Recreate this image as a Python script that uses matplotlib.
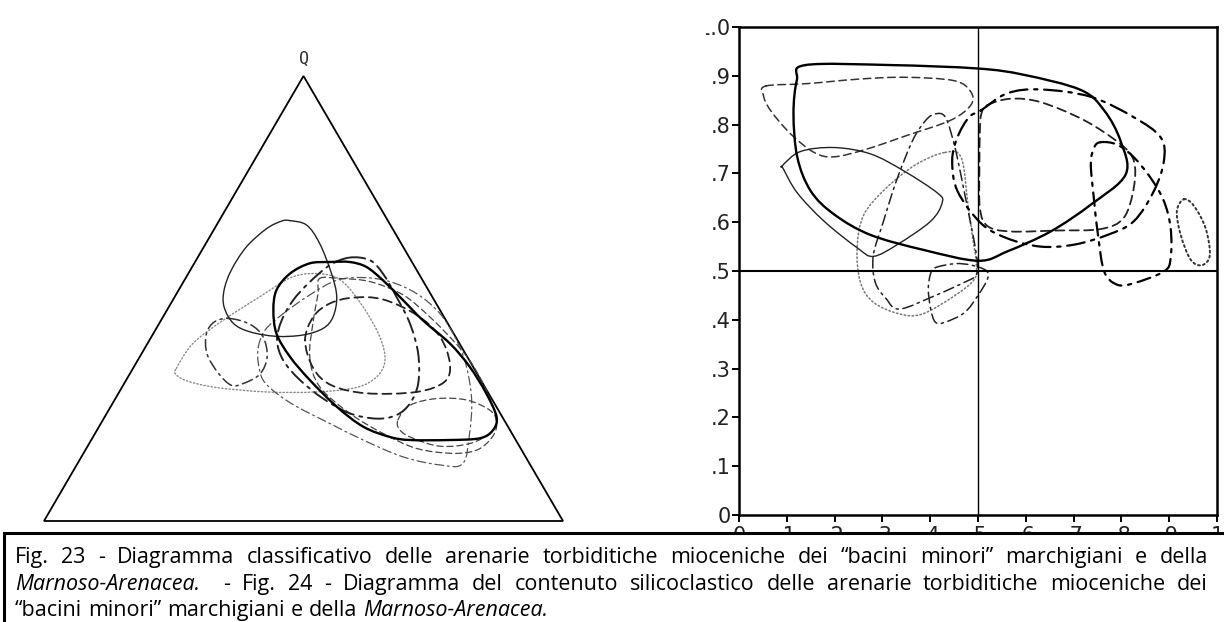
import numpy as np
import matplotlib.pyplot as plt
from matplotlib.path import Path
from matplotlib.patches import PathPatch, Rectangle, Polygon

W, H = 1224, 622

# ---- Fig. 23: ternary diagram, curves in triangle coords (x along base, y = height)
tri_thin_solid = [(0.474, 0.675), (0.506, 0.665), (0.531, 0.624), (0.554, 0.556), (0.564, 0.504),
                  (0.557, 0.459), (0.538, 0.433), (0.499, 0.418), (0.448, 0.415), (0.397, 0.425),
                  (0.365, 0.444), (0.347, 0.481), (0.347, 0.519), (0.361, 0.564), (0.390, 0.616),
                  (0.429, 0.657), (0.458, 0.674)]
tri_thick_solid = [(0.551, 0.582), (0.589, 0.582), (0.621, 0.571), (0.653, 0.541), (0.692, 0.496),
                   (0.730, 0.451), (0.782, 0.399), (0.820, 0.347), (0.852, 0.287), (0.872, 0.234),
                   (0.865, 0.204), (0.840, 0.186), (0.782, 0.182), (0.705, 0.182), (0.666, 0.189),
                   (0.615, 0.212), (0.564, 0.257), (0.512, 0.317), (0.474, 0.369), (0.448, 0.421),
                   (0.442, 0.474), (0.448, 0.519), (0.474, 0.556), (0.512, 0.579)]
tri_dotted = [(0.255, 0.343), (0.287, 0.399), (0.345, 0.451), (0.416, 0.504), (0.480, 0.549),
              (0.538, 0.555), (0.576, 0.537), (0.615, 0.481), (0.647, 0.414), (0.657, 0.361),
              (0.641, 0.324), (0.602, 0.300), (0.525, 0.290), (0.429, 0.290), (0.332, 0.300),
              (0.275, 0.315), (0.254, 0.330)]
tri_small_dashdot = [(0.358, 0.455), (0.397, 0.442), (0.422, 0.414), (0.430, 0.369), (0.416, 0.330),
                     (0.384, 0.309), (0.361, 0.305), (0.336, 0.332), (0.314, 0.376), (0.313, 0.421),
                     (0.329, 0.448)]
tri_thin_dashdot = [(0.413, 0.391), (0.426, 0.429), (0.461, 0.466), (0.512, 0.508), (0.564, 0.541),
                    (0.615, 0.547), (0.666, 0.538), (0.718, 0.511), (0.763, 0.466), (0.795, 0.406),
                    (0.814, 0.347), (0.824, 0.272), (0.820, 0.197), (0.807, 0.129), (0.763, 0.126),
                    (0.692, 0.144), (0.615, 0.182), (0.551, 0.219), (0.487, 0.257), (0.448, 0.287),
                    (0.422, 0.317), (0.413, 0.354)]
tri_heavy_dashdot = [(0.589, 0.592), (0.628, 0.586), (0.653, 0.556), (0.679, 0.504), (0.705, 0.444),
                     (0.721, 0.376), (0.721, 0.309), (0.705, 0.264), (0.679, 0.238), (0.641, 0.230),
                     (0.589, 0.242), (0.538, 0.275), (0.493, 0.317), (0.461, 0.361), (0.449, 0.406),
                     (0.458, 0.451), (0.480, 0.496), (0.512, 0.537), (0.551, 0.575)]
tri_inner_dashed = [(0.503, 0.406), (0.519, 0.459), (0.551, 0.489), (0.596, 0.502), (0.653, 0.498),
                    (0.718, 0.463), (0.763, 0.414), (0.782, 0.354), (0.772, 0.313), (0.718, 0.290),
                    (0.621, 0.287), (0.554, 0.305), (0.519, 0.343)]
tri_outer_dashed = [(0.531, 0.545), (0.570, 0.545), (0.628, 0.538), (0.692, 0.508), (0.743, 0.459),
                    (0.788, 0.406), (0.820, 0.361), (0.846, 0.309), (0.865, 0.257), (0.872, 0.212),
                    (0.859, 0.182), (0.833, 0.159), (0.788, 0.152), (0.718, 0.163), (0.653, 0.197),
                    (0.589, 0.242), (0.531, 0.302), (0.512, 0.369), (0.519, 0.451), (0.528, 0.511)]
tri_low_dashed = [(0.682, 0.227), (0.705, 0.260), (0.756, 0.275), (0.814, 0.272), (0.859, 0.249),
                  (0.872, 0.223), (0.859, 0.197), (0.820, 0.174), (0.763, 0.168), (0.711, 0.186),
                  (0.686, 0.204)]

# ---- Fig. 24: silicoclastic content, x and y in 0..1
sq_thick_solid = [(0.139, 0.922), (0.317, 0.922), (0.499, 0.915), (0.596, 0.902), (0.715, 0.871),
                  (0.764, 0.829), (0.798, 0.767), (0.809, 0.698), (0.736, 0.636), (0.652, 0.581),
                  (0.561, 0.540), (0.500, 0.521), (0.387, 0.543), (0.275, 0.574), (0.199, 0.616),
                  (0.150, 0.664), (0.122, 0.733), (0.114, 0.822), (0.121, 0.891)]
sq_thin_solid = [(0.091, 0.716), (0.129, 0.745), (0.199, 0.753), (0.275, 0.740), (0.345, 0.705),
                 (0.415, 0.660), (0.425, 0.640), (0.401, 0.602), (0.331, 0.554), (0.281, 0.530),
                 (0.248, 0.547), (0.178, 0.602), (0.122, 0.660), (0.093, 0.709)]
sq_upper_dashed = [(0.056, 0.879), (0.143, 0.884), (0.248, 0.893), (0.345, 0.897), (0.450, 0.890),
                   (0.485, 0.867), (0.485, 0.840), (0.443, 0.809), (0.352, 0.778), (0.268, 0.750),
                   (0.199, 0.734), (0.157, 0.743), (0.108, 0.781), (0.066, 0.829), (0.051, 0.860)]
sq_dotted = [(0.431, 0.743), (0.465, 0.732), (0.479, 0.636), (0.489, 0.567), (0.496, 0.519),
             (0.493, 0.484), (0.452, 0.450), (0.384, 0.412), (0.336, 0.412), (0.281, 0.436),
             (0.254, 0.477), (0.247, 0.546), (0.261, 0.615), (0.308, 0.670), (0.370, 0.718)]
sq_tall_dashdot = [(0.411, 0.822), (0.432, 0.815), (0.450, 0.760), (0.464, 0.698), (0.478, 0.629),
                   (0.492, 0.561), (0.499, 0.512), (0.495, 0.490), (0.472, 0.477), (0.411, 0.450),
                   (0.336, 0.422), (0.308, 0.443), (0.285, 0.477), (0.281, 0.532), (0.302, 0.601),
                   (0.329, 0.684), (0.363, 0.767), (0.390, 0.808)]
sq_small_dashdot = [(0.411, 0.507), (0.452, 0.515), (0.486, 0.512), (0.517, 0.501), (0.520, 0.484),
                    (0.500, 0.450), (0.472, 0.415), (0.431, 0.395), (0.411, 0.395), (0.401, 0.422),
                    (0.396, 0.464), (0.401, 0.495)]
sq_heavy_dashdot = [(0.506, 0.829), (0.561, 0.864), (0.631, 0.872), (0.736, 0.857), (0.826, 0.815),
                    (0.882, 0.774), (0.889, 0.726), (0.868, 0.664), (0.826, 0.602), (0.771, 0.574),
                    (0.701, 0.554), (0.631, 0.550), (0.561, 0.567), (0.506, 0.598), (0.457, 0.664),
                    (0.446, 0.726), (0.457, 0.774), (0.481, 0.815)]
sq_right_dashed = [(0.520, 0.840), (0.568, 0.853), (0.631, 0.846), (0.722, 0.809), (0.798, 0.760),
                   (0.826, 0.726), (0.826, 0.671), (0.805, 0.609), (0.757, 0.586), (0.666, 0.583),
                   (0.568, 0.581), (0.520, 0.592), (0.504, 0.629), (0.503, 0.712), (0.504, 0.788),
                   (0.507, 0.822)]
sq_narrow_dashdot = [(0.757, 0.764), (0.791, 0.759), (0.826, 0.733), (0.861, 0.691), (0.889, 0.643),
                     (0.903, 0.588), (0.903, 0.526), (0.889, 0.499), (0.826, 0.475), (0.791, 0.472),
                     (0.764, 0.499), (0.751, 0.574), (0.743, 0.643), (0.736, 0.719), (0.743, 0.753)]
sq_right_dotted = [(0.931, 0.647), (0.952, 0.633), (0.976, 0.588), (0.985, 0.533), (0.969, 0.512),
                   (0.945, 0.523), (0.924, 0.574), (0.916, 0.623)]

y_ticks = np.arange(0, 1.01, 0.1)
y_ticklabels = ['0', '.1', '.2', '.3', '.4', '.5', '.6', '.7', '.8', '.9', '1.0']
x_ticklabels = ['0', '.1', '.2', '.3', '.4', '.5', '.6', '.7', '.8', '.9', '1']

caption_1 = [("Fig.", "normal"), ("23", "normal"), ("-", "normal"), ("Diagramma", "normal"),
             ("classificativo", "normal"), ("delle", "normal"), ("arenarie", "normal"),
             ("torbiditiche", "normal"), ("mioceniche", "normal"), ("dei", "normal"),
             ("\u201cbacini", "normal"), ("minori\u201d", "normal"), ("marchigiani", "normal"),
             ("e", "normal"), ("della", "normal")]
caption_2 = [("Marnoso-Arenacea.", "italic"), ("", "normal"), ("-", "normal"), ("Fig.", "normal"),
             ("24", "normal"), ("-", "normal"), ("Diagramma", "normal"), ("del", "normal"),
             ("contenuto", "normal"), ("silicoclastico", "normal"), ("delle", "normal"),
             ("arenarie", "normal"), ("torbiditiche", "normal"), ("mioceniche", "normal"),
             ("dei", "normal")]
caption_3 = [("\u201cbacini", "normal"), ("minori\u201d", "normal"), ("marchigiani", "normal"),
             ("e", "normal"), ("della", "normal"), ("Marnoso-Arenacea.", "italic")]


def closed_path(points):
    # smooth closed curve through the points (Catmull-Rom as cubic Bezier)
    p = np.asarray(points, float)
    n = len(p)
    verts = [p[0]]
    codes = [Path.MOVETO]
    for i in range(n):
        p0, p1, p2, p3 = p[i - 1], p[i], p[(i + 1) % n], p[(i + 2) % n]
        verts += [p1 + (p2 - p0) / 6, p2 - (p3 - p1) / 6, p2]
        codes += [Path.CURVE4] * 3
    return Path(verts, codes)


def draw_curve(ax, points, lw, ls, color="black"):
    ax.add_patch(PathPatch(closed_path(points), fill=False, lw=lw, ls=ls,
                           edgecolor=color, capstyle="round", joinstyle="round"))


fig = plt.figure(figsize=(W / 100, H / 100), dpi=100)
fig.patch.set_facecolor("white")

dashed = (0, (5, 3))
dashdot = (0, (7, 3, 1.5, 3))
dotted = (0, (1, 1.6))

# ---- left panel
axl = fig.add_axes([44 / W, (H - 521) / H, (563 - 44) / W, (521 - 76) / H])
axl.set_xlim(0, 1)
axl.set_ylim(0, 1)
axl.axis("off")
axl.add_patch(Polygon([(0, 0), (1, 0), (0.5, 1)], closed=True, fill=False, lw=1.3,
                      edgecolor="black", clip_on=False))
axl.annotate("Q", (0.5, 1), xytext=(0, 6), textcoords="offset points", ha="center",
             va="bottom", fontsize=12, family="DejaVu Sans Mono", color="#333333",
             annotation_clip=False)

draw_curve(axl, tri_dotted, 1.0, dotted, "#8a8a8a")
draw_curve(axl, tri_thin_dashdot, 0.9, dashdot, "#555555")
draw_curve(axl, tri_outer_dashed, 0.9, dashed, "#444444")
draw_curve(axl, tri_low_dashed, 0.9, dashed, "#444444")
draw_curve(axl, tri_small_dashdot, 1.1, dashdot, "#333333")
draw_curve(axl, tri_inner_dashed, 1.3, dashed, "#222222")
draw_curve(axl, tri_heavy_dashdot, 1.4, (0, (8, 3, 1.5, 3)), "#222222")
draw_curve(axl, tri_thin_solid, 1.0, "-", "#222222")
draw_curve(axl, tri_thick_solid, 1.7, "-", "black")

# ---- right panel
axr = fig.add_axes([739 / W, (H - 515) / H, (1217 - 739) / W, (515 - 27) / H])
axr.set_xlim(0, 1)
axr.set_ylim(0, 1)
for s in axr.spines.values():
    s.set_linewidth(1.8)
axr.axvline(0.5, color="black", lw=1.0)
axr.axhline(0.5, color="black", lw=1.5)
axr.set_yticks(y_ticks)
axr.set_yticklabels(y_ticklabels)
axr.set_xticks(y_ticks)
axr.set_xticklabels(x_ticklabels)
axr.tick_params(direction="out", length=5, width=1.4, pad=1, labelsize=15,
                colors="black", labelcolor="#222222")
axr.tick_params(axis="x", pad=3)
for lab in axr.get_xticklabels() + axr.get_yticklabels():
    lab.set_family("DejaVu Sans")

draw_curve(axr, sq_dotted, 1.1, dotted, "#777777")
draw_curve(axr, sq_right_dotted, 1.4, dotted, "#333333")
draw_curve(axr, sq_tall_dashdot, 1.1, dashdot, "#222222")
draw_curve(axr, sq_small_dashdot, 1.1, dashdot, "#222222")
draw_curve(axr, sq_upper_dashed, 1.1, dashed, "#333333")
draw_curve(axr, sq_right_dashed, 1.3, dashed, "#222222")
draw_curve(axr, sq_heavy_dashdot, 1.6, (0, (8, 3, 1.5, 3)), "black")
draw_curve(axr, sq_narrow_dashdot, 1.6, (0, (6, 3, 1.5, 3)), "black")
draw_curve(axr, sq_thin_solid, 1.0, "-", "#222222")
draw_curve(axr, sq_thick_solid, 1.7, "-", "black")

# the scan of Fig. 24 is cut on its left edge
fig.patches.append(Rectangle((600 / W, (H - 45) / H), 106 / W, 45 / H, transform=fig.transFigure,
                             facecolor="white", edgecolor="none", zorder=20))

# ---- caption box
fig.patches.append(Rectangle((4 / W, -0.01), 1.02 - 4 / W, (H - 533) / H + 0.01,
                             transform=fig.transFigure, facecolor="white",
                             edgecolor="black", lw=2.2, zorder=30))

renderer = fig.canvas.get_renderer()
cap_font = dict(family="Open Sans", fontsize=15.5, color="black", zorder=31)


def put_line(words, y_px, x0, x1, justify):
    texts = [fig.text(0, 1 - y_px / H, w, fontstyle=st, va="baseline", **cap_font)
             for w, st in words]
    widths = [t.get_window_extent(renderer).width if t.get_text() else 0 for t in texts]
    if justify:
        gap = (x1 - x0 - sum(widths)) / (len(words) - 1)
    else:
        gap = 6
    x = x0
    for t, wd in zip(texts, widths):
        t.set_x(x / W)
        x += wd + gap


put_line(caption_1, 563, 15, 1208, True)
put_line(caption_2, 590, 15, 1208, True)
put_line(caption_3, 616, 15, 1208, False)

fig.savefig("out.png", dpi=100)
